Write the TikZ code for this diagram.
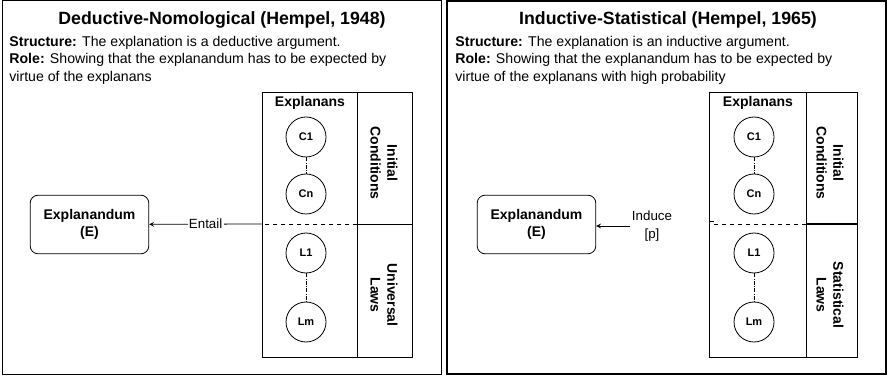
\documentclass[tikz,border=0pt]{standalone}
\usepackage{fontspec}
\setmainfont{Liberation Sans}
\usetikzlibrary{arrows,positioning}
\tikzset{%
	panel/.style    = {draw, line width=0.75pt},
	heading/.style  = {font=\bfseries\fontsize{13.3}{15}\selectfont}, % Title
	descr/.style    = {anchor=north west, align=left, inner sep=0pt, font=\fontsize{10.6}{12.9}\selectfont},
	target/.style   = {draw, rounded corners=6pt, minimum width=89pt, minimum height=44pt, align=center, font=\bfseries\fontsize{10.5}{13}\selectfont}, % Explanandum
	premise/.style  = {draw, circle, minimum size=30pt, inner sep=0pt, font=\bfseries\fontsize{8.25}{9}\selectfont},
	side/.style     = {rotate=-90, align=center, font=\bfseries\fontsize{10.5}{12.5}\selectfont},
	link/.style     = {densely dashdotted, thin},
	rel/.style      = {font=\fontsize{10}{14}\selectfont, align=center},
}

\begin{document}
\begin{tikzpicture}[x=0.75pt, y=-0.75pt, line width=0.6pt, >=stealth]
	\useasboundingbox (0,0) rectangle (888,377);
	
	% Deductive-Nomological
	\draw[panel] (2,1) rectangle (441,374);
	\node[heading] (t) at (222,20) {Deductive-Nomological (Hempel, 1948)};
	\node[descr] (s) at (9,36) {\textbf{Structure:} The explanation is a deductive argument.\\
		\textbf{Role:} Showing that the explanandum has to be expected by\\
		virtue of the explanans};
	\draw (262,92) rectangle (412,357);
	\draw (357,92) -- (357,357);
	\coordinate (d) at (262,224);
	\coordinate (m) at (357,224);
	\draw (m) -- (412,224);
	\draw[dashed] (m) -- (d);
	\node[font=\bfseries\fontsize{10.5}{13}\selectfont] (x) at (310,103) {Explanans};
	\node[premise] (c1) at (306,137) {C1};
	\node[premise] (cn) at (306,194) {Cn};
	\node[premise] (l1) at (306,253) {L1};
	\node[premise] (lm) at (306,322) {Lm};
	\draw[link] (c1) -- (cn);
	\draw[link] (l1) -- (lm);
	\node[side] (ic) at (384,163) {Initial\\Conditions};
	\node[side] (ul) at (384,295) {Universal\\Laws};
	\node[target] (e) at (89.5,224.5) {Explanandum\\(E)};
	\draw[->] (d) -- node[rel, fill=white, inner sep=1pt] {Entail} (e);
	
	% Inductive-Statistical
	\draw[panel, line width=1.2pt] (447,1) rectangle (886,374);
	\node[heading] (t2) at (668,20) {Inductive-Statistical (Hempel, 1965)};
	\node[descr] (s2) at (455,36) {\textbf{Structure:} The explanation is an inductive argument.\\
		\textbf{Role:} Showing that the explanandum has to be expected by\\
		virtue of the explanans with high probability};
	\draw (709,92) rectangle (857,357);
	\draw (806,92) -- (806,357);
	\coordinate (d2) at (709,224);
	\coordinate (m2) at (806,224);
	\draw[line width=1.2pt] (m2) -- (857,224);
	\draw[dashed] (m2) -- (d2);
	\draw (d2) ++(0,-3) -- ++(5,0);
	\node[font=\bfseries\fontsize{10.5}{13}\selectfont] (x2) at (758,103) {Explanans};
	\node[premise] (c12) at (754,137) {C1};
	\node[premise] (cn2) at (754,194) {Cn};
	\node[premise] (l12) at (754,253) {L1};
	\node[premise] (lm2) at (754,322) {Lm};
	\draw[link] (c12) -- (cn2);
	\draw[link] (l12) -- (lm2);
	\node[side] (ic2) at (830,163) {Initial\\Conditions};
	\node[side] (sl2) at (830,295) {Statistical\\Laws};
	\node[target] (e2) at (536.5,224.5) {Explanandum\\(E)};
	\node[rel, inner sep=1pt] (ind) at (652,226) {Induce\\{[p]}};
	\draw[->] (ind) -- (ind -| e2.east);
\end{tikzpicture}
\end{document}
